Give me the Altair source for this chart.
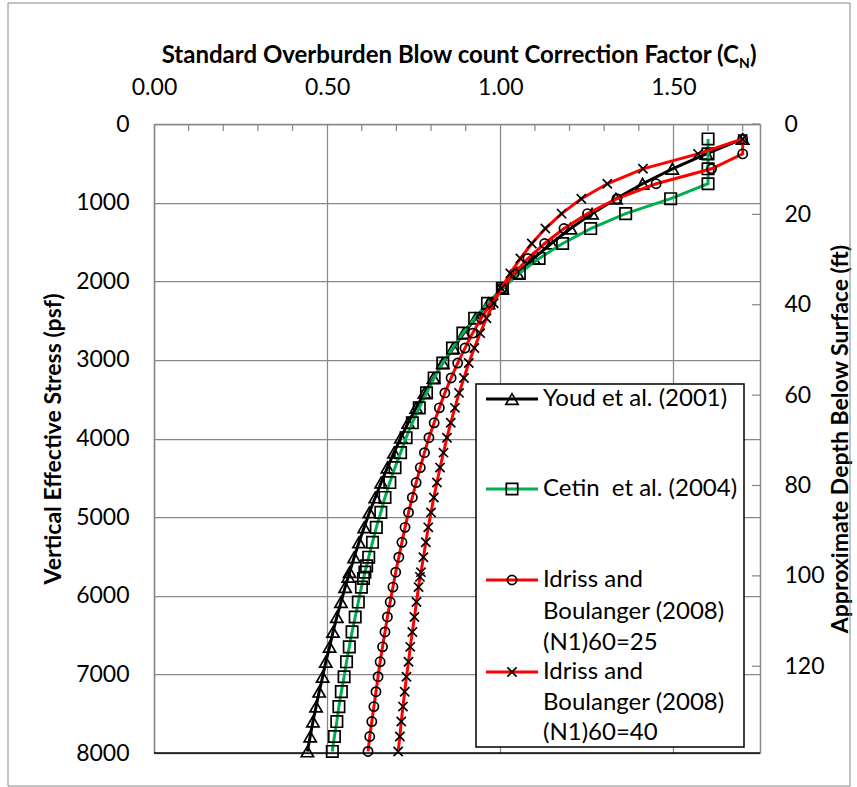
import altair as alt
import pandas as pd

# ---------------- data ----------------
stress = [190, 380, 570, 760, 950, 1140, 1330, 1520, 1710, 1900, 2090, 2280, 2470, 2660,
          2850, 3040, 3230, 3420, 3610, 3800, 3990, 4180, 4370, 4560, 4750, 4940, 5130,
          5320, 5510, 5700, 5890, 6080, 6270, 6460, 6650, 6840, 7030, 7220, 7410, 7600,
          7790, 7980]

youd_cn = [1.700, 1.595, 1.497, 1.411, 1.334, 1.265, 1.203, 1.147, 1.096, 1.049, 1.006,
           0.966, 0.929, 0.895, 0.864, 0.834, 0.807, 0.781, 0.757, 0.734, 0.713, 0.693,
           0.674, 0.656, 0.639, 0.622, 0.607, 0.592, 0.578, 0.565, 0.552, 0.540, 0.528,
           0.517, 0.507, 0.496, 0.487, 0.477, 0.468, 0.459, 0.451, 0.443]

cetin_cn = [1.600, 1.600, 1.600, 1.600, 1.492, 1.362, 1.261, 1.180, 1.112, 1.055, 1.006,
            0.963, 0.926, 0.892, 0.862, 0.834, 0.809, 0.787, 0.766, 0.746, 0.728, 0.712,
            0.696, 0.681, 0.667, 0.655, 0.642, 0.631, 0.620, 0.609, 0.599, 0.590, 0.581,
            0.572, 0.564, 0.556, 0.549, 0.541, 0.534, 0.528, 0.521, 0.515]

ib25_cn = [1.700, 1.700, 1.610, 1.450, 1.337, 1.252, 1.184, 1.128, 1.080, 1.040, 1.005,
           0.973, 0.945, 0.920, 0.898, 0.877, 0.858, 0.840, 0.824, 0.809, 0.794, 0.781,
           0.769, 0.757, 0.746, 0.735, 0.725, 0.716, 0.707, 0.698, 0.690, 0.682, 0.674,
           0.667, 0.660, 0.653, 0.647, 0.641, 0.635, 0.629, 0.623, 0.618]

ib40_cn = [1.700, 1.571, 1.412, 1.309, 1.234, 1.177, 1.130, 1.091, 1.058, 1.029, 1.003,
           0.981, 0.960, 0.942, 0.925, 0.909, 0.895, 0.881, 0.869, 0.857, 0.846, 0.836,
           0.826, 0.817, 0.808, 0.800, 0.792, 0.785, 0.778, 0.771, 0.764, 0.758, 0.752,
           0.746, 0.740, 0.735, 0.729, 0.724, 0.719, 0.714, 0.710, 0.705]

# a few additional samples seen around 5600-5800 psf
youd_extra_stress = [5760]
youd_extra_cn = [0.561]
cetin_extra_stress = [5620, 5780]
cetin_extra_cn = [0.614, 0.605]
ib40_extra_stress = [5760]
ib40_extra_cn = [0.768]

series_names = ["Youd", "Cetin", "IB25", "IB40"]
legend_labels = [["Youd et al. (2001)"],
                 ["Cetin\u00a0 et al. (2004)"],
                 ["Idriss and", "Boulanger (2008)", "(N1)60=25"],
                 ["Idriss and", "Boulanger (2008)", "(N1)60=40"]]

x_tick_values = [0.0, 0.5, 1.0, 1.5]
x_minor_ticks = [0.1, 0.2, 0.3, 0.4, 0.6, 0.7, 0.8, 0.9, 1.1, 1.2, 1.3, 1.4, 1.6, 1.7]
y_tick_values = [0, 1000, 2000, 3000, 4000, 5000, 6000, 7000, 8000]
depth_tick_values = [0, 20, 40, 60, 80, 100, 120]

# ---------------- build table ----------------
rows = []
for name, s_list, c_list in [
    ("Youd", stress + youd_extra_stress, youd_cn + youd_extra_cn),
    ("Cetin", stress + cetin_extra_stress, cetin_cn + cetin_extra_cn),
    ("IB25", stress, ib25_cn),
    ("IB40", stress + ib40_extra_stress, ib40_cn + ib40_extra_cn),
]:
    for s, c in zip(s_list, c_list):
        rows.append({"series": name, "stress": s, "cn": c})
df = pd.DataFrame(rows)

# ---------------- styling ----------------
W, H = 606, 629
FONT = "Lato"
GRID = "#888888"
LINE_COLORS = {"Youd": "#000000", "Cetin": "#00B050", "IB25": "#FF0000", "IB40": "#FF0000"}
X_PATH = "M-1,-1L1,1M-1,1L1,-1"
MARKERS = {"Youd": ("triangle-up", 150), "Cetin": ("square", 130),
           "IB25": ("circle", 85), "IB40": (X_PATH, 85)}
MSW = 1.7

XS = alt.Scale(domain=[0, 1.75], nice=False, zero=False)
YS = alt.Scale(domain=[0, 8000], reverse=True, nice=False)

X_AX = alt.Axis(orient="top", values=x_tick_values, format=".2f", grid=True,
                gridColor=GRID, gridWidth=1.25, ticks=False, domain=True,
                domainColor=GRID, domainWidth=1.5, labelFont=FONT, labelFontSize=23,
                labelColor="black", labelPadding=25, labelFlush=False, title=None)
Y_AX = alt.Axis(values=y_tick_values, format="d", grid=True, gridColor=GRID,
                gridWidth=1.25, ticks=False, domain=True, domainColor=GRID,
                domainWidth=1.5, labelFont=FONT, labelFontSize=23, labelColor="black",
                labelPadding=25, title="Vertical Effective Stress (psf)",
                titleFont=FONT, titleFontSize=23, titleFontWeight="bold",
                titleColor="black", titlePadding=10)

X = alt.X("cn:Q", scale=XS, axis=X_AX)
Y = alt.Y("stress:Q", scale=YS, axis=Y_AX)

one = pd.DataFrame({"a": [0]})

layers = []

# minor ticks on the top axis (pointing inward)
layers.append(
    alt.Chart(pd.DataFrame({"cn": x_minor_ticks})).mark_rule(color=GRID, strokeWidth=1.25)
    .encode(x=X, y=alt.value(0), y2=alt.value(7))
)

# series
for name in series_names:
    d = df[df.series == name]
    shape, size = MARKERS[name]
    layers.append(
        alt.Chart(d).mark_line(color=LINE_COLORS[name], strokeWidth=3)
        .encode(x=X, y=Y, order="stress:Q")
    )
    layers.append(
        alt.Chart(d).mark_point(shape=shape, size=size, filled=False, color="black",
                                strokeWidth=MSW, opacity=1)
        .encode(x=X, y=Y)
    )

# bottom black border of plot
layers.append(
    alt.Chart(one).mark_rule(color="black", strokeWidth=1.5)
    .encode(x=alt.value(0), x2=alt.value(W), y=alt.value(H))
)

# legend box
LX0, LX1, LY0, LY1 = 322, 590, 260, 623
layers.append(
    alt.Chart(one).mark_rect(fill="white", stroke="black", strokeWidth=1.5)
    .encode(x=alt.value(LX0), x2=alt.value(LX1), y=alt.value(LY0), y2=alt.value(LY1))
)
row_y = [[275], [365], [456, 488, 519], [548, 579, 609]]
for name, labels, ys in zip(series_names, legend_labels, row_y):
    shape, size = MARKERS[name]
    layers.append(
        alt.Chart(one).mark_rule(color=LINE_COLORS[name], strokeWidth=3)
        .encode(x=alt.value(332), x2=alt.value(384), y=alt.value(ys[0]))
    )
    layers.append(
        alt.Chart(one).mark_point(shape=shape, size=size, filled=False, color="black",
                                  strokeWidth=MSW, opacity=1)
        .encode(x=alt.value(358), y=alt.value(ys[0]))
    )
    for lab, yy in zip(labels, ys):
        layers.append(
            alt.Chart(one).mark_text(align="left", baseline="middle", font=FONT,
                                     fontSize=24, color="black")
            .encode(x=alt.value(389), y=alt.value(yy), text=alt.value(lab))
        )

# top axis title with subscript N
TX = 585
layers.append(
    alt.Chart(one).mark_text(align="right", baseline="alphabetic", font=FONT,
                             fontSize=24, fontWeight="bold", color="black")
    .encode(x=alt.value(TX), y=alt.value(-61),
            text=alt.value("Standard Overburden Blow count Correction Factor (C"))
)
layers.append(
    alt.Chart(one).mark_text(align="left", baseline="alphabetic", font=FONT,
                             fontSize=14, fontWeight="bold", color="black")
    .encode(x=alt.value(TX), y=alt.value(-56), text=alt.value("N"))
)
layers.append(
    alt.Chart(one).mark_text(align="left", baseline="alphabetic", font=FONT,
                             fontSize=24, fontWeight="bold", color="black")
    .encode(x=alt.value(TX + 11), y=alt.value(-61), text=alt.value(")"))
)

# outer chart border
layers.append(
    alt.Chart(one).mark_rect(fillOpacity=0, stroke=GRID, strokeWidth=1)
    .encode(x=alt.value(-146), x2=alt.value(696), y=alt.value(-121), y2=alt.value(662))
)

main = alt.layer(*layers)

D_AX = alt.Axis(orient="right", values=depth_tick_values, format="d", ticks=False,
                grid=False, domain=True, domainColor=GRID, domainWidth=1.5,
                labelFont=FONT, labelFontSize=23, labelColor="black", labelPadding=24,
                title="Approximate Depth Below Surface (ft)", titleFont=FONT,
                titleFontSize=23, titleFontWeight="bold", titleColor="black",
                titleAngle=270, titlePadding=28)
depth = (
    alt.Chart(pd.DataFrame({"depth": depth_tick_values}))
    .mark_rule(color=GRID, strokeWidth=1.25)
    .encode(y=alt.Y("depth:Q", scale=alt.Scale(domain=[0, 139.2], reverse=True, nice=False),
                    axis=D_AX),
            x=alt.value(W - 8), x2=alt.value(W))
)

chart = (
    alt.layer(main, depth)
    .resolve_scale(y="independent")
    .properties(width=W, height=H, background="white",
                autosize=alt.AutoSizeParams(type="none"),
                padding={"left": 154, "top": 124, "right": 97, "bottom": 34})
    .configure_view(stroke=None)
)

chart.save("out.html", embed_options={"renderer": "svg", "actions": False})
